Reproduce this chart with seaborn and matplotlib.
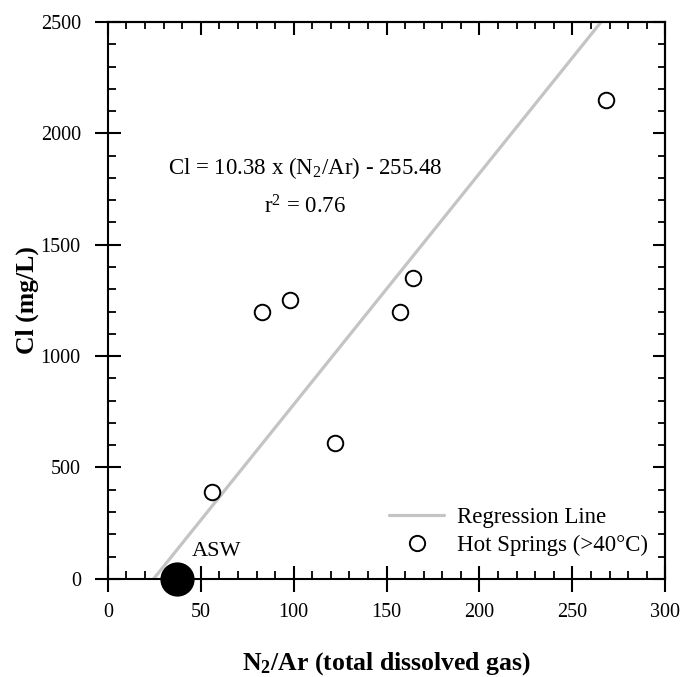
import matplotlib
matplotlib.use("Agg")
import matplotlib.pyplot as plt
import seaborn as sns
import numpy as np
import pandas as pd
from matplotlib.ticker import MultipleLocator
from matplotlib.lines import Line2D

# Data
n2ar = [56, 83, 98, 122, 157, 164, 268]
cl = [390, 1200, 1250, 610, 1200, 1350, 2150]
asw_x = [37]
asw_y = [0]
slope = 10.38
intercept = -255.48
reg_y = [0, 2500]

sns.set_theme(style="white")
plt.rcParams['font.family'] = ['Liberation Serif', 'DejaVu Serif']
plt.rcParams['mathtext.fontset'] = 'custom'
plt.rcParams['mathtext.rm'] = 'Liberation Serif'
plt.rcParams['mathtext.it'] = 'Liberation Serif:italic'
plt.rcParams['mathtext.bf'] = 'Liberation Serif:bold'
plt.rcParams['text.color'] = 'black'
plt.rcParams['axes.labelcolor'] = 'black'

fig = plt.figure(figsize=(6.83, 6.77), dpi=100)
ax = fig.add_axes([0.158, 0.145, 0.816, 0.8225])

reg_x = [(y - intercept) / slope for y in reg_y]
reg_df = pd.DataFrame({"x": reg_x, "y": reg_y})
sns.lineplot(data=reg_df, x="x", y="y", ax=ax, color="#c4c4c4", linewidth=2.3, zorder=2)

df = pd.DataFrame({"x": n2ar, "y": cl})
sns.scatterplot(data=df, x="x", y="y", ax=ax, s=125, facecolor="white",
                edgecolor="black", linewidth=1.4, zorder=3)
asw = pd.DataFrame({"x": asw_x, "y": asw_y})
sns.scatterplot(data=asw, x="x", y="y", ax=ax, s=520, color="black",
                edgecolor="black", zorder=4, clip_on=False)

ax.set_xlim(0, 300)
ax.set_ylim(0, 2500)
for axis, maj, mn in ((ax.xaxis, 50, 10), (ax.yaxis, 500, 100)):
    axis.set_major_locator(MultipleLocator(maj))
    axis.set_minor_locator(MultipleLocator(mn))
ax.tick_params(which='major', direction='inout', length=19, width=1.5,
               left=True, bottom=True, top=False, right=False,
               labelsize=14.5, colors='black')
ax.tick_params(axis='y', which='major', pad=10)
ax.tick_params(axis='x', which='major', pad=8)
ax.tick_params(which='minor', direction='in', length=5.5, width=1.3,
               left=True, bottom=True, top=False, right=False, colors='black')

# mirrored inward ticks on top and right
secx = ax.secondary_xaxis('top')
secx.xaxis.set_major_locator(MultipleLocator(50))
secx.xaxis.set_minor_locator(MultipleLocator(10))
secx.tick_params(which='major', direction='in', length=9, width=1.5, top=True,
                 labeltop=False, colors='black')
secx.tick_params(which='minor', direction='in', length=5, width=1.3, top=True, colors='black')
secy = ax.secondary_yaxis('right')
secy.yaxis.set_major_locator(MultipleLocator(500))
secy.yaxis.set_minor_locator(MultipleLocator(100))
secy.tick_params(which='major', direction='in', length=9, width=1.5, right=True,
                 labelright=False, colors='black')
secy.tick_params(which='minor', direction='in', length=5, width=1.3, right=True, colors='black')
for a in (ax, secx, secy):
    for s in a.spines.values():
        s.set_linewidth(1.5)
        s.set_color('black')

ax.set_xlabel(r"N$_\mathbf{2}$/Ar (total dissolved gas)", fontsize=18.5,
              fontweight='bold', labelpad=20, color='black')
ax.set_ylabel("Cl (mg/L)", fontsize=18.5, fontweight='bold', labelpad=1, color='black')

ax.text(106, 1845, r"Cl = 10.38 x (N$_2$/Ar) - 255.48", ha='center', va='center',
        fontsize=16.5, color='black')
ax.text(106, 1672, r"r$^2$ = 0.76", ha='center', va='center', fontsize=16.5, color='black')
ax.text(45, 121, "ASW", ha='left', va='center', fontsize=16, color='black')

handles = [Line2D([], [], color="#c4c4c4", linewidth=2.3),
           Line2D([], [], marker='o', linestyle='none', markerfacecolor='white',
                  markeredgecolor='black', markersize=11, markeredgewidth=1.4)]
leg = ax.legend(handles, ["Regression Line", "Hot Springs (>40°C)"], loc='lower right',
                frameon=False, fontsize=16.5, bbox_to_anchor=(0.985, 0.025), borderaxespad=0,
                handlelength=2.4, handletextpad=0.55, labelspacing=0.3)
for t in leg.get_texts():
    t.set_color('black')

fig.savefig("out.png", dpi=100)
